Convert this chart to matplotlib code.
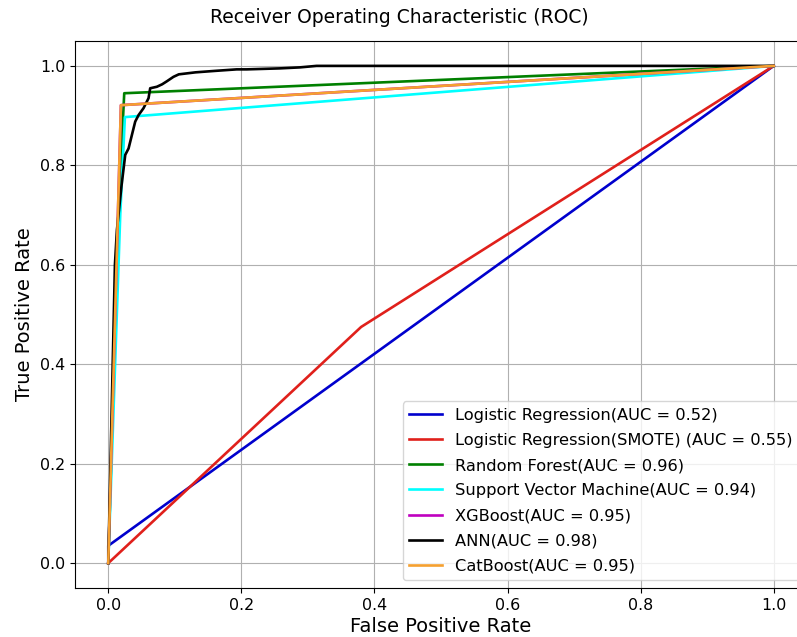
import matplotlib
matplotlib.use("Agg")
import matplotlib.pyplot as plt

plt.rcParams["font.family"] = ["DejaVu Sans"]

# ROC points
lr_fpr = [0.0, 0.0, 1.0]
lr_tpr = [0.0, 0.035, 1.0]

lr_smote_fpr = [0.0, 0.38, 1.0]
lr_smote_tpr = [0.0, 0.475, 1.0]

rf_fpr = [0.0, 0.015, 0.024, 1.0]
rf_tpr = [0.0, 0.70, 0.945, 1.0]

svm_fpr = [0.0, 0.018, 0.025, 1.0]
svm_tpr = [0.0, 0.70, 0.897, 1.0]

xgb_fpr = [0.0, 0.019, 1.0]
xgb_tpr = [0.0, 0.921, 1.0]

ann_fpr = [0.0, 0.005, 0.010, 0.013, 0.020, 0.0255, 0.0305, 0.0355, 0.0405, 0.0455,
           0.053, 0.0605, 0.063, 0.073, 0.081, 0.088, 0.098, 0.106, 0.131, 0.161,
           0.193, 0.208, 0.258, 0.288, 0.313, 1.0]
ann_tpr = [0.0, 0.30, 0.60, 0.67, 0.76, 0.821, 0.834, 0.861, 0.888, 0.901,
           0.915, 0.935, 0.955, 0.958, 0.963, 0.969, 0.978, 0.983, 0.987, 0.990,
           0.993, 0.993, 0.995, 0.997, 1.0, 1.0]

cat_fpr = [0.0, 0.019, 1.0]
cat_tpr = [0.0, 0.921, 1.0]

auc_scores = {
    "Logistic Regression": 0.52,
    "Logistic Regression(SMOTE) ": 0.55,
    "Random Forest": 0.96,
    "Support Vector Machine": 0.94,
    "XGBoost": 0.95,
    "ANN": 0.98,
    "CatBoost": 0.95,
}

curves = [
    (lr_fpr, lr_tpr, "Logistic Regression", "mediumblue"),
    (lr_smote_fpr, lr_smote_tpr, "Logistic Regression(SMOTE) ", "#e0201b"),
    (rf_fpr, rf_tpr, "Random Forest", "green"),
    (svm_fpr, svm_tpr, "Support Vector Machine", "cyan"),
    (xgb_fpr, xgb_tpr, "XGBoost", "m"),
    (ann_fpr, ann_tpr, "ANN", "black"),
    (cat_fpr, cat_tpr, "CatBoost", "#f5a030"),
]

fig = plt.figure(figsize=(7.97, 6.37), dpi=100)
ax = fig.add_axes([0.0941, 0.0769, 0.9184, 0.8587])

for fpr, tpr, name, color in curves:
    ax.plot(fpr, tpr, color=color, lw=1.9,
            label=f"{name}(AUC = {auc_scores[name]:.2f})")

ax.set_xlim(-0.05, 1.05)
ax.set_ylim(-0.05, 1.05)
ax.tick_params(labelsize=11.4)
ax.set_xlabel("False Positive Rate", fontsize=14, labelpad=3)
ax.set_ylabel("True Positive Rate", fontsize=14)
ax.set_title("Receiver Operating Characteristic (ROC)", fontsize=13.5, x=0.4426, pad=13)
ax.grid(True)
ax.legend(loc="lower right", fontsize=11.7, labelspacing=0.62)

fig.savefig("out.png", dpi=100)
